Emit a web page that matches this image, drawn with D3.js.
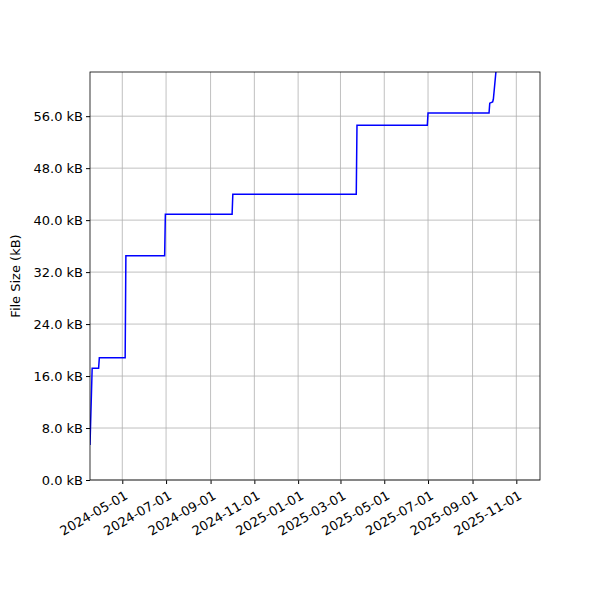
<!DOCTYPE html>
<html><head><meta charset="utf-8">
<script src="https://cdn.jsdelivr.net/npm/d3@7"></script>
<style>body{margin:0;background:#fff}</style></head>
<body><svg id="c" width="600" height="600"></svg>
<script>
const dates = ["2024-03-17","2024-03-20","2024-03-29","2024-03-30","2024-05-05","2024-05-06","2024-06-29","2024-06-30","2024-10-01","2024-10-02","2025-03-23","2025-03-24","2025-06-30","2025-07-01","2025-09-24","2025-09-25","2025-09-29","2025-09-30","2025-10-05"];
const sizes = [5.4,17.2,17.2,18.8,18.8,34.5,34.5,40.9,40.9,44.0,44.0,54.6,54.6,56.5,56.5,58.0,58.2,58.6,64.5];
const yTicks = [0,8,16,24,32,40,48,56];
const xTickLabels = ["2024-05-01","2024-07-01","2024-09-01","2024-11-01","2025-01-01","2025-03-01","2025-05-01","2025-07-01","2025-09-01","2025-11-01"];
const xDomain = ["2024-03-17","2025-12-04"];
const yMax = 62.8;

const p = d3.timeParse("%Y-%m-%d");
const svg = d3.select("#c");
const L=90,R=540,T=72,B=480;
const x = d3.scaleTime().domain(xDomain.map(p)).range([L,R]);
const y = d3.scaleLinear().domain([0,yMax]).range([B,T]);
const font="DejaVu Sans, sans-serif";

const gx = svg.append("g").attr("transform",`translate(0,${B})`)
  .call(d3.axisBottom(x).tickValues(xTickLabels.map(p)).tickFormat(d3.timeFormat("%Y-%m-%d")).tickSizeOuter(0).tickSize(4));
gx.selectAll("text").attr("font-family",font).attr("font-size",13).attr("fill","#000")
  .attr("text-anchor","end").attr("transform","rotate(-30)").attr("dx","-0.3em").attr("dy","0.9em");
const gy = svg.append("g").attr("transform",`translate(${L},0)`)
  .call(d3.axisLeft(y).tickValues(yTicks).tickFormat(d=>d.toFixed(1)+" kB").tickSizeOuter(0).tickSize(4));
gy.selectAll("text").attr("font-family",font).attr("font-size",13).attr("fill","#000");
[gx,gy].forEach(g=>{g.select(".domain").remove();g.selectAll("line").attr("stroke","#000");});

// grid
svg.append("g").selectAll("line").data(xTickLabels.map(p)).join("line")
  .attr("x1",d=>x(d)).attr("x2",d=>x(d)).attr("y1",T).attr("y2",B).attr("stroke","#b0b0b0").attr("stroke-width",0.8);
svg.append("g").selectAll("line").data(yTicks).join("line")
  .attr("y1",d=>y(d)).attr("y2",d=>y(d)).attr("x1",L).attr("x2",R).attr("stroke","#b0b0b0").attr("stroke-width",0.8);

svg.append("clipPath").attr("id","clip").append("rect").attr("x",L).attr("y",T).attr("width",R-L).attr("height",B-T);
const data = dates.map((d,i)=>[p(d),sizes[i]]);
svg.append("path").datum(data).attr("clip-path","url(#clip)")
  .attr("d",d3.line().x(d=>x(d[0])).y(d=>y(d[1])))
  .attr("fill","none").attr("stroke","#0000ff").attr("stroke-width",1.5);

svg.append("rect").attr("x",L).attr("y",T).attr("width",R-L).attr("height",B-T).attr("fill","none").attr("stroke","#000").attr("stroke-width",0.8);

svg.append("text").attr("transform",`translate(20,${(T+B)/2}) rotate(-90)`).attr("text-anchor","middle")
  .attr("font-family",font).attr("font-size",13).text("File Size (kB)");
</script></body></html>
